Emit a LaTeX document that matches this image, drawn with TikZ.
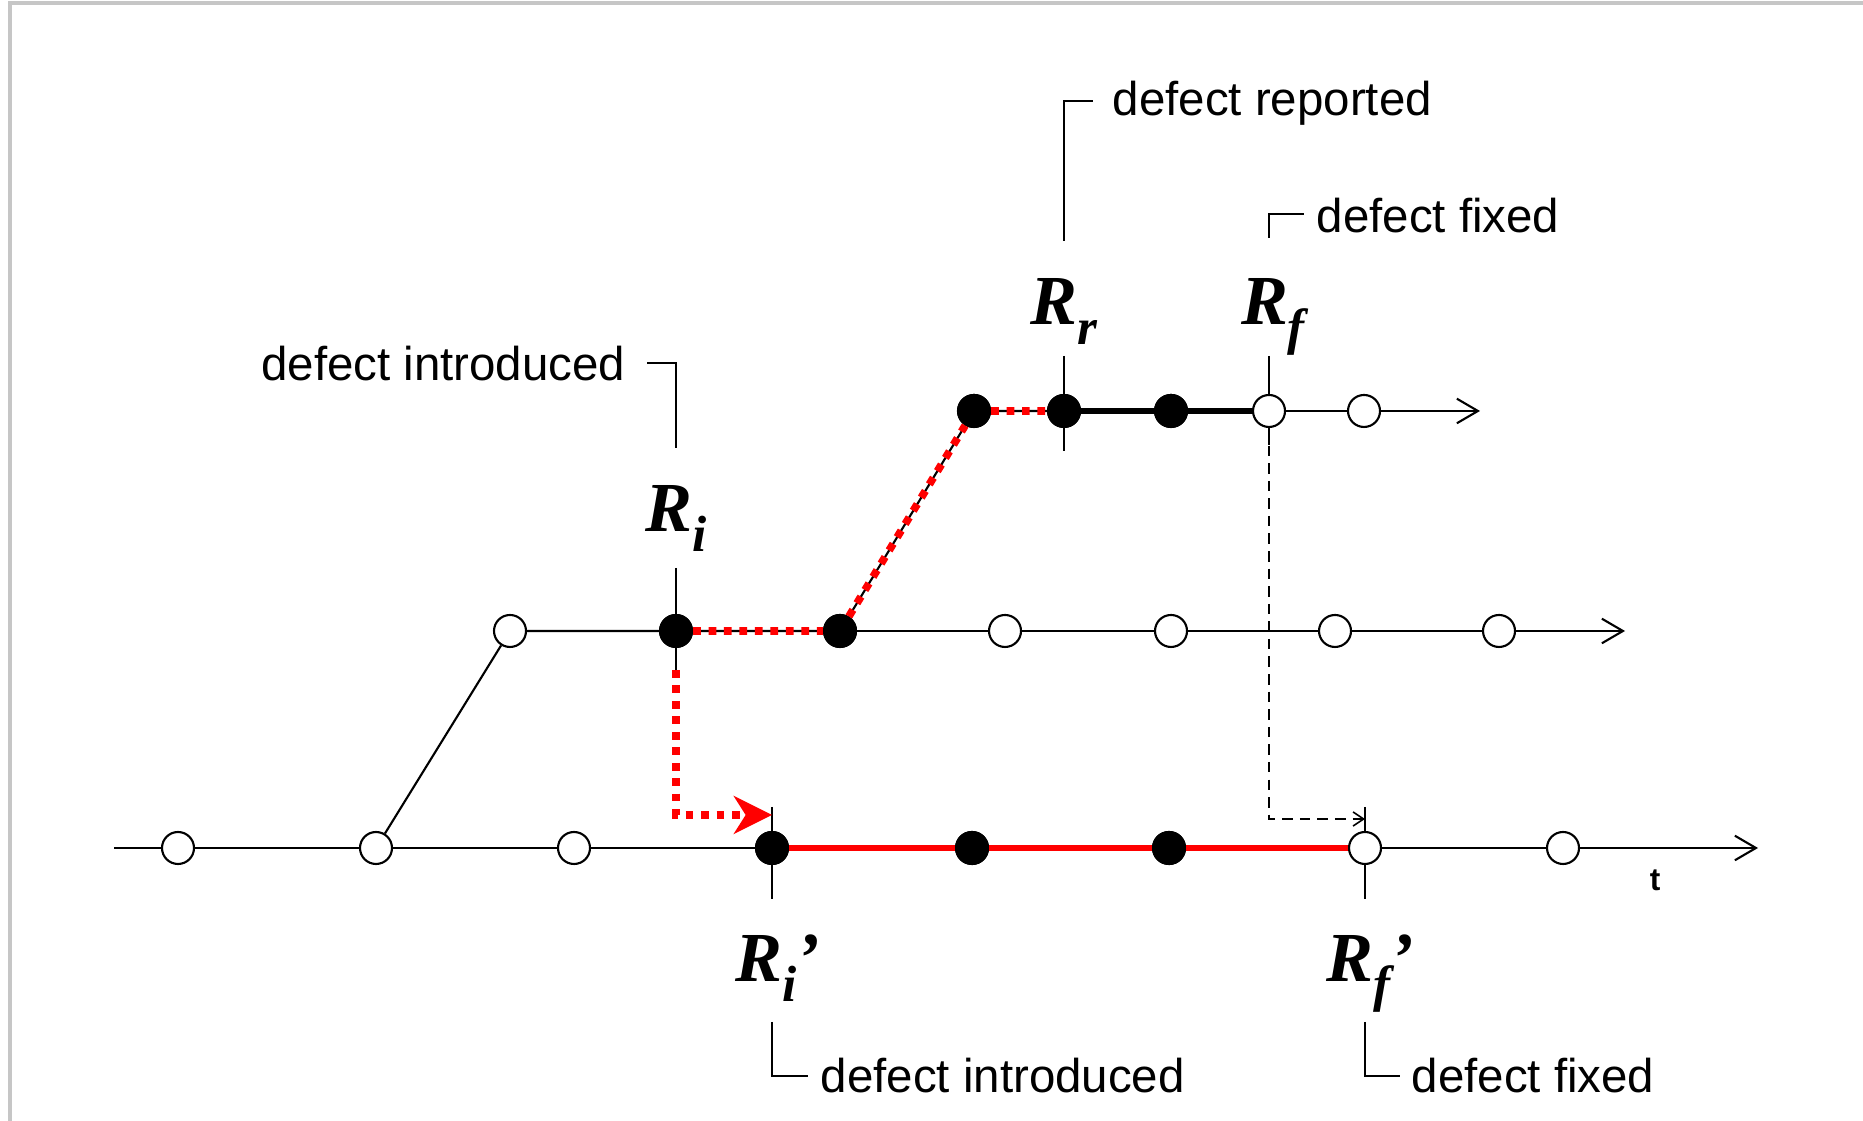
\documentclass[tikz,border=0pt]{standalone}
\usepackage{fontspec}
\setmainfont{Liberation Sans}
\newfontfamily\relfont{Liberation Serif}
\usetikzlibrary{arrows.meta,calc,backgrounds}

% release label: bold italic R with subscript
\newcommand{\rel}[2]{{\relfont\bfseries\itshape\fontsize{20}{20}\selectfont R\raisebox{-5.5pt}{\fontsize{14.5}{14.5}\selectfont #1}#2}}

\begin{document}
\begin{tikzpicture}[
    open/.style={circle, draw, fill=white, minimum size=0.32cm, inner sep=0pt, line width=0.6pt},
    shut/.style={open, fill=black},
    axis/.style={line width=0.6pt},
    tick/.style={line width=0.45pt},
    reddot/.style={red, line width=2.2pt, dash pattern=on 2.2pt off 2.2pt},
    note/.style={font=\fontsize{13.5}{15}\selectfont, inner sep=0pt},
    rlab/.style={anchor=base, inner sep=0pt}
]
    \useasboundingbox (0,0) rectangle (18.63,11.21);
    \draw[gray!45, line width=1pt] (0.10,0) -- (0.10,11.18) -- (18.63,11.18);

    % release nodes on the three branches
    \foreach \x [count=\k] in {1.78,3.76,5.74,7.72,9.72,11.69,13.65,15.63} {
        \node[open] (b\k) at (\x,2.73) {};
    }
    \foreach \x [count=\k] in {5.10,6.76,8.40,10.05,11.71,13.35,14.99} {
        \node[open] (m\k) at (\x,4.90) {};
    }
    \foreach \x [count=\k] in {9.74,10.64,11.71,12.69,13.64} {
        \node[open] (t\k) at (\x,7.10) {};
    }
    \foreach \n in {b4,b5,b6,m2,m3,t1,t2,t3} {
        \node[shut] at (\n) {};
    }
    \coordinate (b0) at (1.14,2.73);
    \coordinate (bend) at (17.58,2.73);
    \coordinate (mend) at (16.25,4.90);
    \coordinate (tend) at (14.80,7.10);

    % branches
    \draw[axis] (b0) -- (b1) -- (b2) -- (b3) -- (b4);
    \draw[axis, -{Straight Barb[length=6pt, width=7pt]}] (b7) -- (b8) -- (bend);
    \draw[red, line width=1.5pt] (b4) -- (b5) -- (b6) -- (b7);
    \draw[axis] (b2) -- (m1) -- (m2) -- (m3);
    \draw[axis, -{Straight Barb[length=6pt, width=7pt]}] (m3) -- (m4) -- (m5) -- (m6) -- (m7) -- (mend);
    \draw[axis] (m3) -- (t1) -- (t2);
    \draw[line width=1.5pt] (t2) -- (t3) -- (t4);
    \draw[axis, -{Straight Barb[length=6pt, width=7pt]}] (t4) -- (t5) -- (tend);
    \draw[reddot] (m2) -- (m3) -- (t1) -- (t2);

    \node at (16.55,2.41) {\bfseries\fontsize{9}{9}\selectfont t};

    \begin{scope}[on background layer]
        % ticks
        \draw[tick] (6.76,5.53) -- (m2) -- (6.76,4.44);
        \draw[tick] (10.64,7.65) -- (t2) -- (10.64,6.70);
        \draw[tick] (12.69,7.65) -- (t4) -- (12.69,6.76);
        \draw[tick] (7.72,3.14) -- (b4) -- (7.72,2.22);
        \draw[tick] (13.65,3.14) -- (b7) -- (13.65,2.22);
    \end{scope}

    % carried over to the branch
    \coordinate (ri) at (7.72,3.06);
    \coordinate (rf) at (13.65,3.02);
    \draw[reddot, -{Stealth[length=11pt, width=11pt, inset=3.5pt, line width=0pt]}]
        ($(m2)+(0,-0.39)$) |- (ri);
    \draw[tick, dash pattern=on 3pt off 2pt, -{Straight Barb[length=3pt, width=4pt]}]
        (t4) |- (rf);

    % release labels
    \node[rlab] (lri) at (6.76,5.89) {\rel{i}{}};
    \node[rlab] (lrr) at (10.64,7.96) {\rel{r}{}};
    \node[rlab] (lrf) at (12.73,7.96) {\rel{f}{}};
    \node[rlab] (lri2) at (7.78,1.39) {\rel{i}{’}};
    \node[rlab] (lrf2) at (13.70,1.39) {\rel{f}{’}};

    % leaders
    \draw[tick] (6.76,6.73) -- (6.76,7.58) -- (6.47,7.58);
    \node[note, anchor=east] (ni) at (6.26,7.57) {defect introduced};
    \draw[tick] (10.64,8.80) -- (10.64,10.20) -- (10.93,10.20);
    \node[note, anchor=west] (nr) at (11.12,10.18) {defect reported};
    \draw[tick] (12.69,8.83) -- (12.69,9.07) -- (13.04,9.07);
    \node[note, anchor=west] (nf) at (13.16,9.05) {defect fixed};
    \draw[tick] (7.72,0.99) -- (7.72,0.45) -- (8.08,0.45);
    \node[note, anchor=west] (ni2) at (8.20,0.45) {defect introduced};
    \draw[tick] (13.65,0.99) -- (13.65,0.45) -- (14.00,0.45);
    \node[note, anchor=west] (nf2) at (14.11,0.45) {defect fixed};
\end{tikzpicture}
\end{document}
